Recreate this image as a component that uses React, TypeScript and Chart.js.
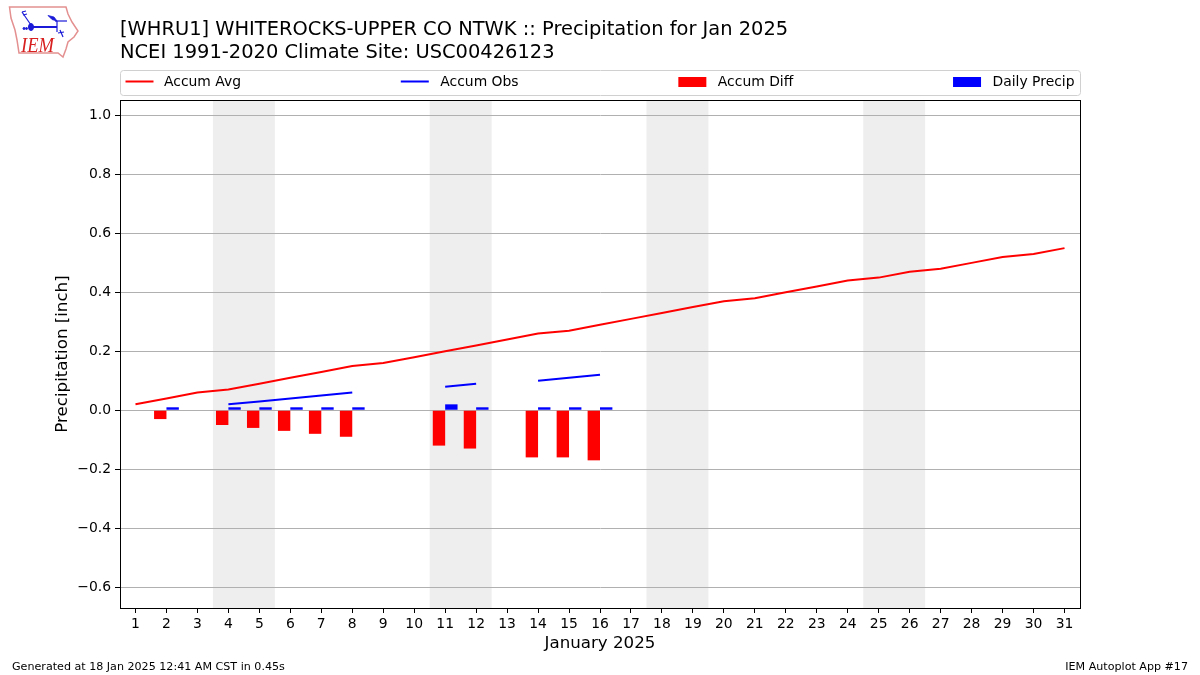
import React, { useEffect, useRef } from "react";
import { Chart, registerables } from "chart.js";

Chart.register(...registerables);

const FONT = "'DejaVu Sans', sans-serif";

const titleLines = [
  "[WHRU1] WHITEROCKS-UPPER CO NTWK :: Precipitation for Jan 2025",
  "NCEI 1991-2020 Climate Site: USC00426123",
];
const days = ["1","2","3","4","5","6","7","8","9","10","11","12","13","14","15","16","17","18","19","20","21","22","23","24","25","26","27","28","29","30","31"];
const accumAvg = [0.02,0.04,0.06,0.07,0.09,0.11,0.13,0.15,0.16,0.18,0.2,0.22,0.24,0.26,0.27,0.29,0.31,0.33,0.35,0.37,0.38,0.4,0.42,0.44,0.45,0.47,0.48,0.5,0.52,0.53,0.55];
const accumObs = [null,0.01,null,0.02,0.03,0.04,0.05,0.06,null,null,0.08,0.09,null,0.1,0.11,0.12,null,null,null,null,null,null,null,null,null,null,null,null,null,null,null];
const accumDiff = [null,-0.03,null,-0.05,-0.06,-0.07,-0.08,-0.09,null,null,-0.12,-0.13,null,-0.16,-0.16,-0.17,null,null,null,null,null,null,null,null,null,null,null,null,null,null,null];
const dailyPrecip = [null,0.01,null,0.01,0.01,0.01,0.01,0.01,null,null,0.02,0.01,null,0.01,0.01,0.01,null,null,null,null,null,null,null,null,null,null,null,null,null,null,null];
const weekends = [["4","5"],["11","12"],["18","19"],["25","26"]];
const yTicks = [-0.6,-0.4,-0.2,0,0.2,0.4,0.6,0.8,1.0];
const yMin = -0.671;
const yMax = 1.0525;
const footerLeft = "Generated at 18 Jan 2025 12:41 AM CST in 0.45s";
const footerRight = "IEM Autoplot App #17";

const decorations = {
  id: "decorations",
  beforeDraw(chart: any) {
    const { ctx, chartArea, scales } = chart;
    const x = scales.x;
    const half = (x.getPixelForValue(1) - x.getPixelForValue(0)) / 2;
    ctx.save();
    ctx.fillStyle = "#eeeeee";
    for (const [a, b] of weekends) {
      const x0 = x.getPixelForValue(days.indexOf(a)) - half;
      const x1 = x.getPixelForValue(days.indexOf(b)) + half;
      ctx.fillRect(x0, chartArea.top, x1 - x0, chartArea.bottom - chartArea.top);
    }
    ctx.restore();
  },
  afterDraw(chart: any) {
    const { ctx, chartArea } = chart;
    ctx.save();
    ctx.strokeStyle = "#000";
    ctx.lineWidth = 1;
    ctx.strokeRect(
      Math.round(chartArea.left) + 0.5,
      Math.round(chartArea.top) + 0.5,
      Math.round(chartArea.right - chartArea.left),
      Math.round(chartArea.bottom - chartArea.top)
    );
    const left = chartArea.left;
    const right = chartArea.right;
    const top = 70;
    const h = 25;
    ctx.strokeStyle = "#d0d0d0";
    ctx.beginPath();
    ctx.roundRect(left + 0.5, top + 0.5, right - left, h, 3);
    ctx.stroke();
    ctx.font = `13.9px ${FONT}`;
    ctx.textBaseline = "middle";
    ctx.textAlign = "left";
    const sets = chart.data.datasets;
    const inner = 5.5;
    const handle = 28;
    const tgap = 10.5;
    const widths = sets.map((d: any) => handle + tgap + ctx.measureText(d.label).width);
    const total = widths.reduce((a: number, b: number) => a + b, 0);
    const gap = (right - left - 2 * inner - total) / (sets.length - 1);
    let cx = left + inner;
    const cy = top + 11.5;
    sets.forEach((d: any, i: number) => {
      const hx = i === 0 ? cx : cx - 1;
      if (d.type === "line") {
        ctx.strokeStyle = d.borderColor;
        ctx.lineWidth = 2;
        ctx.beginPath();
        ctx.moveTo(hx, cy);
        ctx.lineTo(hx + handle, cy);
        ctx.stroke();
      } else {
        ctx.fillStyle = d.backgroundColor;
        ctx.fillRect(hx, cy - 4.5, handle, 10);
      }
      ctx.fillStyle = "#000";
      ctx.fillText(d.label, cx + handle + tgap, cy + 0.5);
      cx += widths[i] + gap;
    });
    ctx.font = `11.11px ${FONT}`;
    ctx.fillStyle = "#000";
    ctx.textAlign = "left";
    ctx.fillText(footerLeft, 12, 667);
    ctx.textAlign = "right";
    ctx.fillText(footerRight, 1188, 667);
    ctx.restore();
  },
};

function Logo() {
  return (
    <svg width={90} height={62} style={{ position: "absolute", left: 0, top: 0 }}>
      <path
        d="M9.5 7 L66 7 L68 14 L72 22 L78 31 L74 37 L68 42 L66 49 L63 57 L58 53 L19 53 L17 40 L15 30 L11 18 Z"
        fill="none"
        stroke="#e49090"
        strokeWidth={1.5}
      />
      <g stroke="#1a1ad8" fill="#1a1ad8">
        <line x1={31} y1={27} x2={57} y2={27} strokeWidth={2} />
        <ellipse cx={31} cy={27} rx={2.5} ry={3.5} />
        <line x1={31} y1={25} x2={22} y2={12} strokeWidth={1.2} fill="none" />
        <line x1={22} y1={12} x2={26} y2={11} strokeWidth={1.2} />
        <line x1={23} y1={15} x2={27} y2={14} strokeWidth={1.2} />
        <path d="M48 15.5 L54 17 L57 21 L52 19.5 Z" strokeWidth={0.8} />
        <line x1={55} y1={21} x2={67} y2={21} strokeWidth={1.2} />
        <line x1={57} y1={21} x2={57} y2={32} strokeWidth={1.2} />
        <line x1={60} y1={30} x2={63} y2={37} strokeWidth={1.2} />
        <line x1={58} y1={33} x2={64} y2={32} strokeWidth={1.2} />
        <circle cx={24} cy={28.5} r={1} />
        <circle cx={26.5} cy={28.5} r={1} />
      </g>
      <text
        x={21}
        y={52}
        fill="#d82020"
        textLength={33}
        lengthAdjust="spacingAndGlyphs"
        style={{ font: "italic 22px 'Liberation Serif', serif" }}
      >
        IEM
      </text>
    </svg>
  );
}

export default function App() {
  const ref = useRef<HTMLCanvasElement>(null);
  useEffect(() => {
    const chart = new Chart(ref.current as HTMLCanvasElement, {
      type: "bar",
      data: {
        labels: days,
        datasets: [
          { type: "line", label: "Accum Avg", data: accumAvg, borderColor: "#ff0000", backgroundColor: "#ff0000", borderWidth: 2, pointRadius: 0, tension: 0 },
          { type: "line", label: "Accum Obs", data: accumObs, borderColor: "#0000ff", backgroundColor: "#0000ff", borderWidth: 2, pointRadius: 0, tension: 0, spanGaps: false },
          { type: "bar", label: "Accum Diff", data: accumDiff, backgroundColor: "#ff0000", barPercentage: 1, categoryPercentage: 0.8 },
          { type: "bar", label: "Daily Precip", data: dailyPrecip, backgroundColor: "#0000ff", barPercentage: 1, categoryPercentage: 0.8 },
        ],
      } as any,
      options: {
        responsive: false,
        animation: false,
        devicePixelRatio: 1,
        layout: { padding: { left: 0, right: 120, top: 0, bottom: 0 } },
        plugins: {
          legend: { display: false },
          tooltip: { enabled: false },
          title: {
            display: true,
            text: titleLines,
            align: "start",
            fullSize: false,
            color: "#000",
            font: { family: FONT, size: 19.45, weight: "normal", lineHeight: 1.15 },
            padding: { top: 19, bottom: 36.3 },
          },
        },
        scales: {
          x: {
            type: "category",
            offset: true,
            afterFit: (s: any) => { s.height = 67; },
            grid: { drawOnChartArea: false, offset: false, tickLength: 5, tickColor: "#000", drawTicks: true },
            border: { color: "#000" },
            ticks: { color: "#000", font: { family: FONT, size: 13.9 }, autoSkip: false, maxRotation: 0, padding: 3 },
            title: { display: true, text: "January 2025", color: "#000", font: { family: FONT, size: 16.67 }, padding: { top: 0, bottom: 21 } },
          },
          y: {
            min: yMin,
            max: yMax,
            afterFit: (s: any) => { s.width = 120; },
            afterBuildTicks: (s: any) => { s.ticks = yTicks.map((value) => ({ value })); },
            grid: { color: "#b0b0b0", lineWidth: 1, tickLength: 5, tickColor: "#000" },
            border: { color: "#000" },
            ticks: {
              color: "#000",
              font: { family: FONT, size: 13.9 },
              padding: 4,
              callback: (v: any) => (Number(v) < 0 ? "\u2212" : "") + Math.abs(Number(v)).toFixed(1),
            },
            title: { display: true, text: "Precipitation [inch]", color: "#000", font: { family: FONT, size: 16.67 }, padding: { top: 53, bottom: 0 } },
          },
        },
      } as any,
      plugins: [decorations],
    });
    return () => chart.destroy();
  }, []);
  return (
    <div style={{ position: "absolute", left: 0, top: 0, width: 1200, height: 675, background: "#fff", overflow: "hidden" }}>
      <canvas ref={ref} width={1200} height={675} style={{ display: "block" }} />
      <Logo />
    </div>
  );
}
